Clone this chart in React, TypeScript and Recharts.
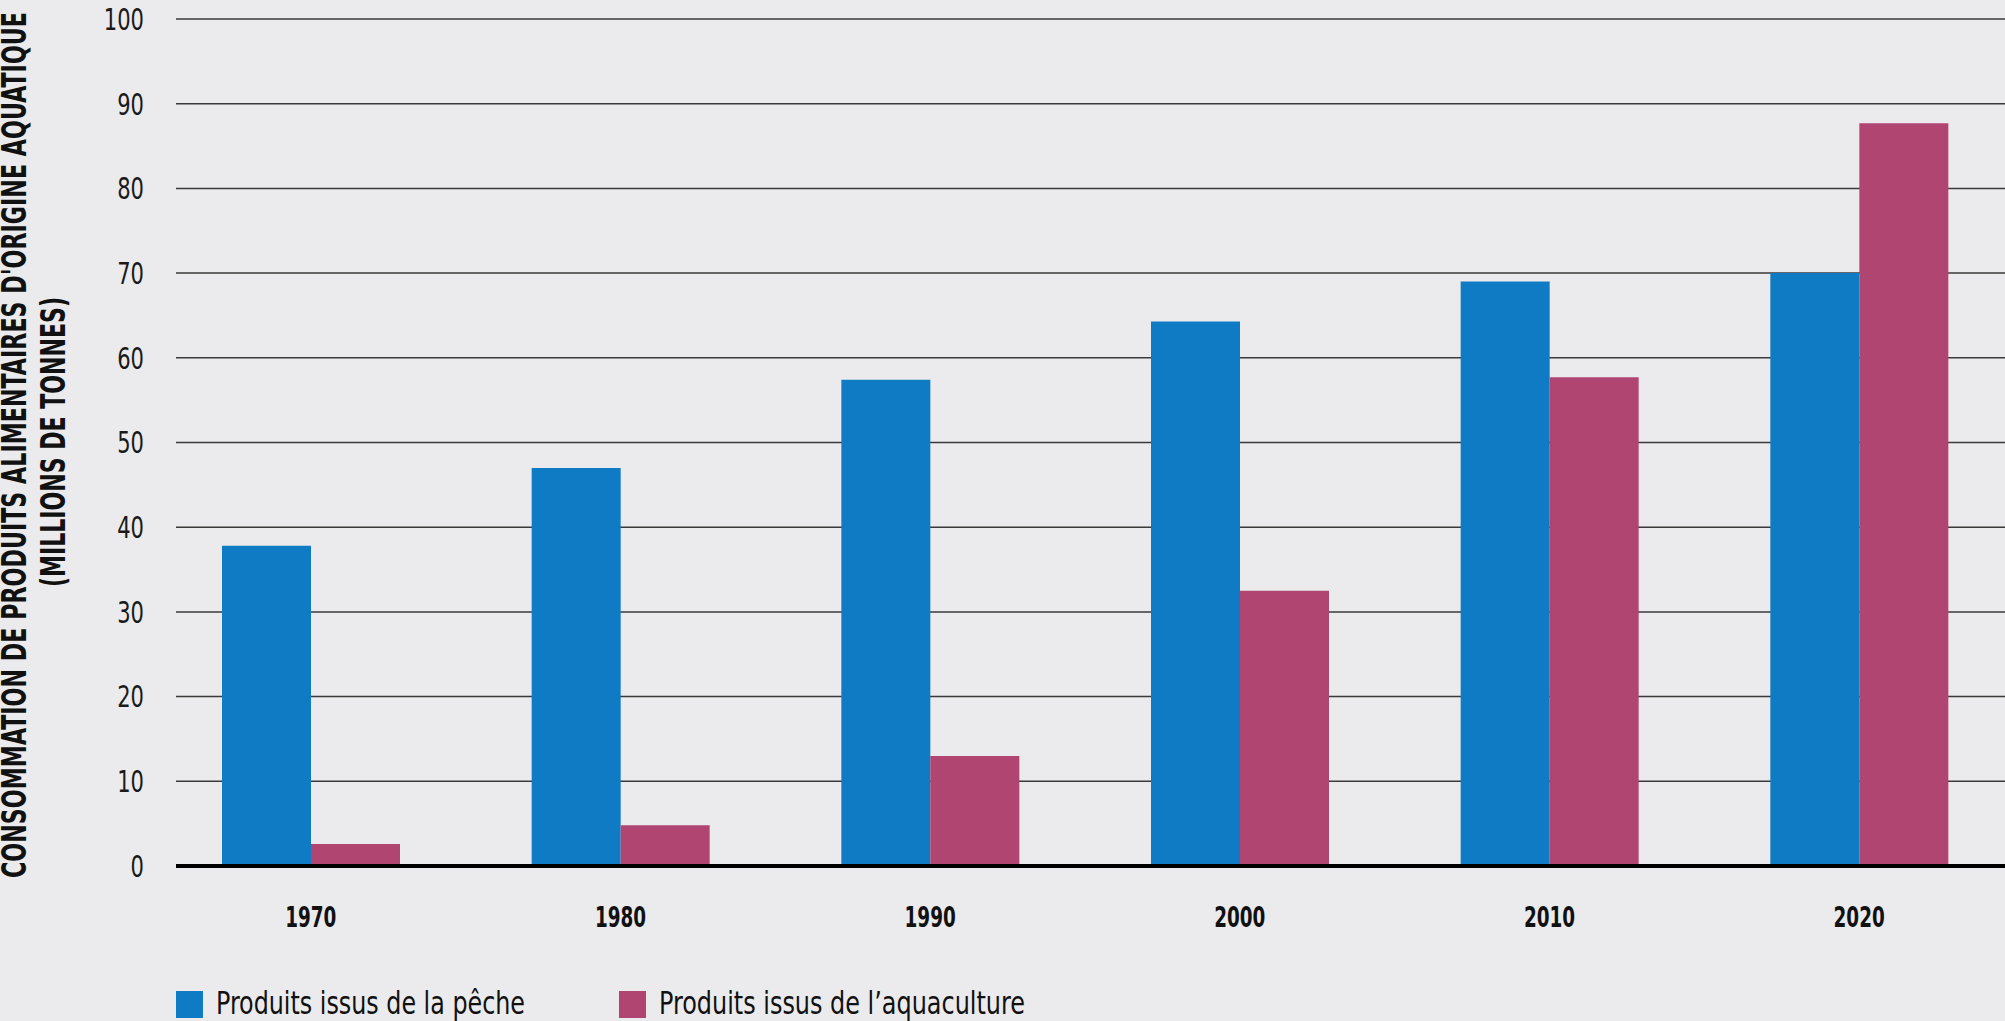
import React from "react";
import { BarChart, Bar, XAxis, YAxis, CartesianGrid } from "recharts";

// Values (millions of tonnes)
const years = ["1970", "1980", "1990", "2000", "2010", "2020"];
const peche = [37.8, 47.0, 57.4, 64.3, 69.0, 70.0];
const aquaculture = [2.6, 4.8, 13.0, 32.5, 57.7, 87.7];
const yTicks = [0, 10, 20, 30, 40, 50, 60, 70, 80, 90, 100];

const BLUE = "#0f7bc4";
const PINK = "#b04572";
const BG = "#ebebed";
const FONT = "'Liberation Sans Narrow', 'DejaVu Sans Condensed', sans-serif";

const SERIES = [
  { key: "peche", label: "Produits issus de la pêche", color: BLUE, x: 176, textLen: 309 },
  { key: "aquaculture", label: "Produits issus de l\u2019aquaculture", color: PINK, x: 619, textLen: 366 },
];

const data = years.map((year, i) => ({
  year,
  peche: peche[i],
  aquaculture: aquaculture[i],
}));

// the source font is much narrower than anything installed, so squeeze the digits
function YTick(props: any) {
  const { x, y, payload } = props;
  const s = String(payload.value);
  return (
    <text
      x={x}
      y={y}
      dy="0.36em"
      textAnchor="end"
      fill="#1a1a1a"
      fontFamily={FONT}
      fontSize={30}
      textLength={s.length * 13.4}
      lengthAdjust="spacingAndGlyphs"
    >
      {s}
    </text>
  );
}

function XTick(props: any) {
  const { x, y, payload } = props;
  const s = String(payload.value);
  return (
    <text
      x={x}
      y={y}
      dy="0.72em"
      textAnchor="middle"
      fill="#111"
      fontFamily={FONT}
      fontWeight={700}
      fontSize={29}
      textLength={s.length * 12.8}
      lengthAdjust="spacingAndGlyphs"
    >
      {s}
    </text>
  );
}

export default function App() {
  return (
    <div
      style={{
        position: "absolute",
        left: 0,
        top: 0,
        width: 2005,
        height: 1021,
        background: BG,
        overflow: "hidden",
      }}
    >
      <BarChart
        width={2005}
        height={1021}
        data={data}
        margin={{ top: 19, right: 0, bottom: 125, left: 0 }}
        barGap={0}
        barSize={89}
      >
        <CartesianGrid vertical={false} stroke="#3a3a3a" strokeWidth={1.5} />
        <YAxis
          width={176}
          domain={[0, 100]}
          ticks={yTicks}
          interval={0}
          axisLine={false}
          tickLine={false}
          tickSize={0}
          tickMargin={32}
          tick={<YTick />}
        />
        {SERIES.map((s) => (
          <Bar key={s.key} dataKey={s.key} fill={s.color} isAnimationActive={false} />
        ))}
        <XAxis
          dataKey="year"
          height={30}
          padding={{ left: -20, right: -9 }}
          axisLine={{ stroke: "#000", strokeWidth: 4 }}
          tickLine={false}
          tickSize={0}
          tickMargin={40}
          tick={<XTick />}
        />
      </BarChart>

      {/* axis title + legend */}
      <svg
        width={2005}
        height={1021}
        style={{ position: "absolute", left: 0, top: 0, pointerEvents: "none" }}
      >
        <text
          transform="translate(26, 445) rotate(-90)"
          textAnchor="middle"
          fontFamily={FONT}
          fontWeight={700}
          fontSize={33}
          fill="#111"
          textLength={866}
          lengthAdjust="spacingAndGlyphs"
        >
          CONSOMMATION DE PRODUITS ALIMENTAIRES D'ORIGINE AQUATIQUE
        </text>
        <text
          transform="translate(65, 442) rotate(-90)"
          textAnchor="middle"
          fontFamily={FONT}
          fontWeight={700}
          fontSize={33}
          fill="#111"
          textLength={290}
          lengthAdjust="spacingAndGlyphs"
        >
          (MILLIONS DE TONNES)
        </text>
        {SERIES.map((s) => (
          <g key={s.key}>
            <rect x={s.x} y={991} width={27} height={27} fill={s.color} />
            <text
              x={s.x + 40}
              y={1014}
              fontFamily={FONT}
              fontSize={32}
              fill="#111"
              textLength={s.textLen}
              lengthAdjust="spacingAndGlyphs"
            >
              {s.label}
            </text>
          </g>
        ))}
      </svg>
    </div>
  );
}
